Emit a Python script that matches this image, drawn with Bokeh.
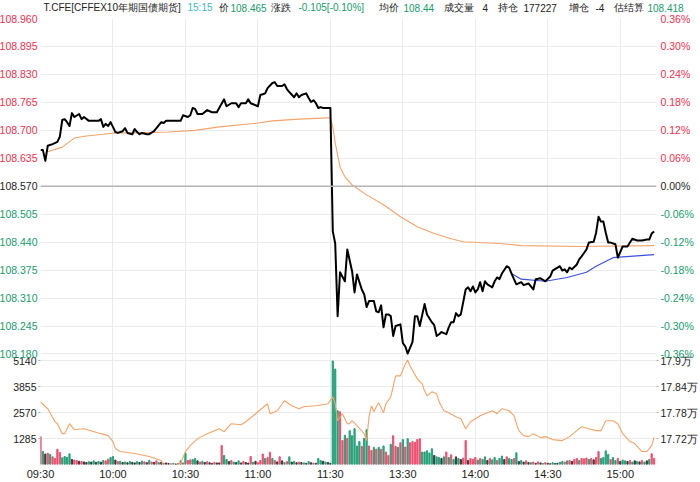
from bokeh.plotting import figure
from bokeh.models import Range1d, LinearAxis, FixedTicker, Grid, Span
from bokeh.core.properties import value
from bokeh.embed import file_html
from bokeh.resources import INLINE

# ---------------- data ----------------
prev_settle = 108.570

# minute index: 0 = 09:30, 120 = 11:30 / 13:00, 255 = 15:15
price_min = [0, 1, 2, 3, 5, 7, 8, 9, 10, 11,
             12, 13, 14, 16, 17, 18, 20, 22, 24, 25,
             26, 27, 28, 29, 30, 31, 32, 34, 35, 36,
             38, 39, 40, 41, 42, 44, 45, 47, 48, 50,
             51, 52, 58, 59, 61, 62, 63, 64, 65, 67,
             69, 71, 73, 76, 77, 79, 81, 82, 83, 85,
             86, 87, 90, 91, 92, 93, 94, 96, 97, 98,
             100, 101, 102, 103, 105, 106, 107, 108, 110, 111,
             112, 113, 114, 115, 116, 117, 119, 120, 121, 122,
             123, 124, 126, 127, 129, 130, 131, 133, 134, 135,
             136, 138, 139, 140, 141, 142, 143, 144, 145, 146,
             147, 149, 150, 151, 152, 154, 155, 156, 157, 159,
             160, 162, 163, 164, 165, 166, 168, 169, 170, 171,
             172, 173, 174, 176, 177, 178, 179, 180, 181, 182,
             183, 184, 185, 187, 188, 189, 190, 191, 193, 194,
             195, 196, 197, 199, 200, 202, 203, 204, 205, 207,
             209, 211, 212, 214, 215, 216, 217, 218, 219, 220,
             222, 223, 224, 226, 227, 229, 230, 231, 232, 233,
             234, 235, 236, 238, 239, 241, 243, 244, 245, 247,
             249, 251, 252, 253, 254]
price_val = [108.654, 108.654, 108.629, 108.664, 108.668, 108.673, 108.685, 108.724, 108.726, 108.719,
             108.710, 108.740, 108.731, 108.738, 108.726, 108.731, 108.722, 108.722, 108.722, 108.726,
             108.708, 108.715, 108.710, 108.719, 108.708, 108.696, 108.694, 108.698, 108.705, 108.694,
             108.691, 108.703, 108.696, 108.691, 108.694, 108.691, 108.691, 108.698, 108.705, 108.719,
             108.717, 108.722, 108.722, 108.735, 108.731, 108.735, 108.752, 108.750, 108.738, 108.738,
             108.747, 108.742, 108.742, 108.772, 108.756, 108.763, 108.763, 108.754, 108.763, 108.763,
             108.772, 108.763, 108.756, 108.782, 108.784, 108.786, 108.798, 108.810, 108.812, 108.803,
             108.803, 108.807, 108.796, 108.789, 108.777, 108.786, 108.777, 108.782, 108.786, 108.775,
             108.766, 108.770, 108.763, 108.752, 108.754, 108.752, 108.752, 108.752, 108.465, 108.437,
             108.268, 108.370, 108.349, 108.423, 108.372, 108.323, 108.365, 108.330, 108.319, 108.289,
             108.303, 108.303, 108.279, 108.277, 108.293, 108.242, 108.272, 108.272, 108.268, 108.222,
             108.245, 108.249, 108.205, 108.198, 108.181, 108.208, 108.268, 108.268, 108.245, 108.296,
             108.272, 108.254, 108.247, 108.222, 108.226, 108.231, 108.226, 108.242, 108.254, 108.254,
             108.275, 108.268, 108.272, 108.330, 108.335, 108.326, 108.337, 108.323, 108.330, 108.347,
             108.326, 108.349, 108.342, 108.335, 108.349, 108.358, 108.354, 108.367, 108.384, 108.381,
             108.367, 108.354, 108.342, 108.347, 108.340, 108.344, 108.337, 108.330, 108.354, 108.356,
             108.349, 108.360, 108.374, 108.381, 108.384, 108.374, 108.377, 108.370, 108.381, 108.377,
             108.388, 108.400, 108.407, 108.423, 108.439, 108.441, 108.462, 108.499, 108.488, 108.488,
             108.462, 108.439, 108.439, 108.435, 108.404, 108.430, 108.430, 108.439, 108.448, 108.444,
             108.444, 108.446, 108.446, 108.460, 108.465]

avg_min = [2, 3, 9, 14, 19, 26, 31, 39, 53, 64, 74, 90, 96, 107, 119, 120,
           121, 122, 124, 126, 129, 135, 142, 149, 156, 163, 170, 175, 190, 199, 223, 254]
avg_val = [108.648, 108.650, 108.661, 108.682, 108.687, 108.691, 108.694, 108.694, 108.696, 108.700,
           108.708, 108.717, 108.722, 108.726, 108.729, 108.729,
           108.708, 108.671, 108.615, 108.592, 108.573, 108.550, 108.527, 108.499, 108.476, 108.460,
           108.448, 108.441, 108.437, 108.432, 108.430, 108.432]

blue_min = [195, 199, 209, 218, 226, 230, 237, 244, 254]
blue_val = [108.367, 108.354, 108.349, 108.358, 108.370, 108.384, 108.404, 108.407, 108.411]

# one volume bar per minute, 0..254
vol = [1380, 650, 520, 560, 500, 380, 300, 760, 600, 330,
       400, 360, 530, 250, 220, 200, 160, 150, 130, 100,
       140, 120, 180, 110, 150, 120, 200, 180, 260, 350,
       400, 220, 150, 160, 100, 120, 90, 150, 110, 80,
       140, 100, 170, 130, 90, 200, 120, 100, 180, 90,
       120, 60, 80, 50, 40, 60, 30, 50, 180, 80,
       570, 200, 230, 250, 300, 180, 120, 160, 100, 140,
       90, 60, 110, 80, 80, 940, 450, 250, 150, 200,
       120, 100, 180, 80, 150, 100, 70, 400, 110, 160,
       90, 200, 520, 300, 350, 610, 300, 200, 130, 380,
       180, 90, 150, 380, 120, 150, 90, 120, 100, 80,
       60, 150, 90, 70, 60, 300, 200, 160, 120, 100,
       60,
       5140, 4740, 2670, 2620, 1190, 1450, 1300, 1680, 1430, 1780,
       920, 1140, 900, 1300, 1730, 920, 700, 850, 760, 850,
       760, 920, 620, 450, 1000, 1430, 900, 850, 1080, 1240,
       870, 1280, 1080, 1140, 1100, 1240, 1280, 620, 620, 680,
       570, 780, 450, 380, 350, 300, 380, 620, 350, 480,
       250, 380, 300, 250, 320, 1190, 200, 300, 260, 350,
       220, 300, 250, 380, 200, 300, 230, 350, 200, 300,
       420, 250, 380, 300, 250, 300, 580, 150, 200, 120,
       180, 100, 90, 120, 60, 130, 80, 50, 100, 60,
       40, 90, 50, 60, 110, 150, 120, 180, 200, 150,
       250, 300, 200, 300, 280, 320, 250, 300, 230, 350,
       640, 300, 350, 680, 500, 250, 350, 200, 300, 150,
       220, 180, 150, 200, 120, 180, 150, 130, 200, 120,
       180, 250, 530, 300]
vol_dir = ("rgkrgrrrrg" "gggkrrkrkk" "gkgkgkgrrg" "gkrgkgkgkk" "gkgrkgrkrg"
           "krkkrgkrgr" "grrggkrgkr" "kkrkkrggkr" "gkgkrkkrgk" "rrrgrrgrkr"
           "kgrgkgkrkg" "kgkrkggkgk" "k"
           "gggrrgrggg" "ggrggrrgrg" "rgrrgrrgrg" "rgrrrrrggg" "ggkggkgrgr"
           "gkgkrrkrrr" "grggkrggrg" "gkrggrgkgk" "rkgrkrkgrk" "kgkkggrgrk"
           "rrgrrrgrkr" "rggggrggrk" "ggkrgkgkrg" "kgrr")

oi_min = [0, 3, 6, 7, 9, 10, 12, 14, 18, 25,
          28, 30, 31, 33, 39, 45, 50, 51, 55, 58,
          60, 62, 65, 69, 74, 76, 79, 83, 85, 90,
          94, 95, 98, 101, 104, 107, 109, 114, 119, 121,
          122, 123, 125, 127, 128, 129, 131, 134, 135, 136,
          137, 138, 139, 140, 142, 143, 145, 147, 149, 151,
          152, 153, 156, 158, 159, 160, 162, 164, 165, 167,
          169, 172, 174, 176, 178, 182, 184, 187, 189, 191,
          194, 196, 198, 200, 202, 204, 207, 209, 212, 216,
          219, 222, 224, 227, 230, 232, 234, 237, 239, 241,
          244, 246, 249, 251, 253, 254]
oi_val = [178054, 177892, 177592, 177546, 177315, 177315, 177546, 177407, 177430, 177315,
          177269, 177131, 176969, 176900, 176854, 176785, 176692, 176554, 176554, 176623,
          176900, 177038, 177200, 177315, 177430, 177361, 177546, 177523, 177592, 177823,
          178008, 177777, 177846, 178077, 177961, 177892, 177938, 177961, 178008, 178169,
          178008, 177615, 177777, 177546, 177546, 177615, 177500, 177315, 177154, 177708,
          177961, 177823, 177938, 178031, 177800, 178008, 178169, 178654, 178654, 178931,
          179023, 178885, 178585, 178469, 178308, 178192, 178285, 178238, 178054, 177846,
          177800, 177708, 177661, 177430, 177592, 177731, 177777, 177846, 177777, 177892,
          177846, 177731, 177385, 177269, 177246, 177315, 177223, 177246, 177177, 177154,
          177246, 177385, 177477, 177430, 177385, 177385, 177615, 177615, 177546, 177315,
          177131, 177085, 176900, 176900, 177038, 177227]

price_ticks = [108.960, 108.895, 108.830, 108.765, 108.700, 108.635, 108.570,
               108.505, 108.440, 108.375, 108.310, 108.245, 108.180]
price_tick_labels = ["108.960", "108.895", "108.830", "108.765", "108.700", "108.635", "108.570",
                     "108.505", "108.440", "108.375", "108.310", "108.245", "108.180"]
pct_tick_labels = ["0.36%", "0.30%", "0.24%", "0.18%", "0.12%", "0.06%", "0.00%",
                   "-0.06%", "-0.12%", "-0.18%", "-0.24%", "-0.30%", "-0.36%"]
vol_ticks = [1285, 2570, 3855, 5140]
oi_ticks = [177200, 177800, 178400, 179000]
oi_tick_labels = ["17.72万", "17.78万", "17.84万", "17.9万"]
time_ticks = [0, 30, 60, 90, 120, 150, 180, 210, 240]
time_labels = ["09:30", "10:00", "10:30", "11:00", "11:30", "13:30", "14:00", "14:30", "15:00"]

header_texts = ["T.CFE[CFFEX10年期国债期货]", "15:15", "价", "108.465", "涨跌", "-0.105[-0.10%]",
                "均价", "108.44", "成交量", "4", "持仓", "177227", "增仓", "-4", "估结算", "108.418"]
header_kind = ["n", "t", "n", "v", "n", "v", "n", "v", "n", "n", "n", "n", "n", "n", "n", "v"]

# ---------------- layout / style ----------------
header_px = [43, 187, 218, 230, 270, 298, 378, 403, 443, 482, 497, 523, 568, 595, 613, 647]
RED = "#f0304f"
GREEN = "#1a9b6e"
DARK = "#222222"
CYAN = "#3fb7c6"
GRID = "#ebebeb"
FONT = value("Liberation Sans")

W, H = 700, 482
X0, X1 = 0, 255
FL, FR = 40, 656          # frame left / right (px)
FT, FB = 18, 466          # frame top / bottom (px)
PB = 355                  # bottom of price panel (px)
VOL_Y = 362               # px of the top volume tick
P_LO, P_HI = 108.180, 108.960

p_per_px = (P_HI - P_LO) / (PB - FT)
price_bottom = P_LO - (FB - PB) * p_per_px
vol_per_px = vol_ticks[-1] / (FB - VOL_Y)
vol_top = vol_ticks[-1] + (VOL_Y - FT) * vol_per_px
oi_per_px = (oi_ticks[-1] - oi_ticks[0]) / (440 - VOL_Y)
oi_top = oi_ticks[-1] + (VOL_Y - FT) * oi_per_px
oi_bot = oi_ticks[-1] - (FB - VOL_Y) * oi_per_px


def xd(px):
    return X0 + (px - FL) * (X1 - X0) / (FR - FL)


def yd(py):
    return P_HI - (py - FT) * p_per_px


p = figure(width=W, height=H, x_range=Range1d(X0, X1), y_range=Range1d(price_bottom, P_HI),
           x_axis_location="below", y_axis_location=None, toolbar_location=None,
           output_backend="svg", min_border_left=FL, min_border_right=W - FR,
           min_border_top=FT, min_border_bottom=H - FB)
p.outline_line_color = None
p.extra_y_ranges = {"vol": Range1d(0, vol_top), "oi": Range1d(oi_bot, oi_top)}
p.ygrid.grid_line_color = None

# grids
p.xaxis.ticker = FixedTicker(ticks=time_ticks)
p.xgrid.grid_line_color = GRID
p.add_layout(Grid(dimension=1, ticker=FixedTicker(ticks=price_ticks), grid_line_color=GRID))
p.add_layout(Grid(dimension=1, y_range_name="vol", ticker=FixedTicker(ticks=vol_ticks),
                  grid_line_color=GRID))
p.add_layout(Span(location=prev_settle, dimension="width", line_color="#b4b4b4", line_width=1.5))

# x axis
p.xaxis.major_label_overrides = dict(zip(time_ticks, time_labels))
p.xaxis.axis_line_color = None
p.xaxis.major_tick_line_color = None
p.xaxis.major_tick_out = 0
p.xaxis.major_tick_in = 0
p.xaxis.major_label_standoff = 3
p.xaxis.major_label_text_font_size = "11px"
p.xaxis.major_label_text_font = "Liberation Sans"
p.xaxis.major_label_text_color = DARK

# volume axis (left) and open-interest axis (right)
vol_axis = LinearAxis(y_range_name="vol", ticker=FixedTicker(ticks=vol_ticks))
oi_axis = LinearAxis(y_range_name="oi", ticker=FixedTicker(ticks=oi_ticks),
                     major_label_overrides=dict(zip(oi_ticks, oi_tick_labels)))
for ax in (vol_axis, oi_axis):
    ax.axis_line_color = None
    ax.major_tick_out = 2
    ax.major_tick_in = 0
    ax.minor_tick_out = 0
    ax.minor_tick_in = 0
    ax.major_tick_line_color = "#aaaaaa"
    ax.major_label_standoff = 2
    ax.major_label_text_font_size = "10.5px"
    ax.major_label_text_font = "Liberation Sans"
    ax.major_label_text_color = DARK
p.add_layout(vol_axis, "left")
p.add_layout(oi_axis, "right")

# volume bars + open interest
bar_color = {"r": "#ef4f6f", "g": "#24a27a", "k": "#3a3a3a"}
p.vbar(x=list(range(len(vol))), top=vol, width=0.5, y_range_name="vol",
       color=[bar_color[c] for c in vol_dir])
p.line(oi_min, oi_val, y_range_name="oi", line_color="#f3a46a", line_width=1.1)

# price panel lines
p.line(avg_min, avg_val, line_color="#f3a46a", line_width=1.1)
p.line(blue_min, blue_val, line_color="#3b4fe0", line_width=1.1)
p.line(price_min, price_val, line_color="black", line_width=2, line_join="round")

# price / percent tick labels
tick_colors = [RED if t > prev_settle + 1e-9 else (GREEN if t < prev_settle - 1e-9 else DARK)
               for t in price_ticks]
p.text(x=[xd(37)] * len(price_ticks), y=price_ticks, text=price_tick_labels,
       text_color=tick_colors, text_align="right", text_baseline="middle",
       text_font=FONT, text_font_size="10.5px", level="overlay")
p.text(x=[xd(660)] * len(price_ticks), y=price_ticks, text=pct_tick_labels,
       text_color=tick_colors, text_align="left", text_baseline="middle",
       text_font=FONT, text_font_size="10.5px", level="overlay")

# header
kind_color = {"n": DARK, "t": CYAN, "v": GREEN}
p.text(x=[xd(px) for px in header_px], y=[yd(7)] * len(header_px), text=header_texts,
       text_color=[kind_color[k] for k in header_kind], text_align="left",
       text_baseline="middle", text_font=FONT, text_font_size="10px", level="overlay")

open("out.html", "w").write(file_html(p, INLINE))
